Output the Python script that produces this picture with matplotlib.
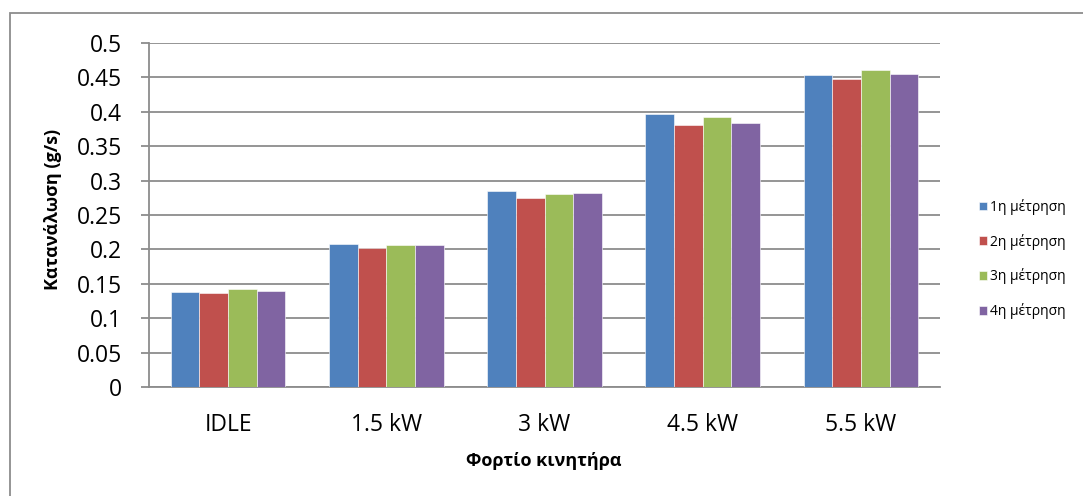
import numpy as np
import matplotlib.pyplot as plt
from matplotlib.patches import Rectangle

# fuel consumption per engine load, four measurement runs
loads = ['IDLE', '1.5 kW', '3 kW', '4.5 kW', '5.5 kW']
run1 = [0.1385, 0.2083, 0.2843, 0.3963, 0.4529]
run2 = [0.1370, 0.2020, 0.2747, 0.3803, 0.4471]
run3 = [0.1419, 0.2058, 0.2810, 0.3924, 0.4607]
run4 = [0.1400, 0.2068, 0.2820, 0.3841, 0.4550]
run_names = ['1η μέτρηση', '2η μέτρηση', '3η μέτρηση', '4η μέτρηση']
colors = ['#4F81BD', '#C0504D', '#9BBB59', '#8064A2']

plt.rcParams['font.family'] = ['Open Sans', 'DejaVu Sans']

fig = plt.figure(figsize=(10.83, 4.96), dpi=100)
ax = fig.add_axes([0.1376, 0.2198, 0.7304, 0.6935])

x = np.arange(len(loads))
w = 0.181
for i, vals in enumerate([run1, run2, run3, run4]):
    ax.bar(x + (i - 1.5) * w, vals, width=w, color=colors[i],
           edgecolor='white', linewidth=0.4, label=run_names[i], zorder=3)

ax.set_xlim(-0.5, len(loads) - 0.5)
ax.set_ylim(0, 0.5)
ax.set_yticks(np.arange(0, 0.501, 0.05))
ax.set_yticklabels(['0', '0.05', '0.1', '0.15', '0.2', '0.25', '0.3',
                    '0.35', '0.4', '0.45', '0.5'])
ax.set_xticks(x)
ax.set_xticklabels(loads)

grid_c = '#8c8c8c'
ax.yaxis.grid(True, color=grid_c, linewidth=1.3, zorder=0)
for s in ['top', 'right']:
    ax.spines[s].set_visible(False)
for s in ['left', 'bottom']:
    ax.spines[s].set_color(grid_c)
    ax.spines[s].set_linewidth(1.3)

ax.tick_params(axis='y', length=5.5, width=1.3, color=grid_c, pad=14,
               labelsize=16.5)
ax.tick_params(axis='x', length=0, pad=19, labelsize=16.5)

ax.set_xlabel('Φορτίο κινητήρα', fontsize=13, fontweight='bold')
ax.xaxis.set_label_coords(0.499, -0.189)
ax.set_ylabel('Κατανάλωση (g/s)', fontsize=13, fontweight='bold')
ax.yaxis.set_label_coords(-0.110, 0.515)

ax.legend(loc='center left', bbox_to_anchor=(1.042, 0.372), frameon=False,
          fontsize=10, handlelength=0.58, handleheight=0.58,
          handletextpad=0.2, labelspacing=1.35, borderaxespad=0)

# chart area outline
fig.patches.append(Rectangle((10 / 1083, -0.1), 1.2, 1.1 - 13 / 496,
                             transform=fig.transFigure, fill=False,
                             edgecolor='#8c8c8c', linewidth=1.3))

fig.savefig('out.png', dpi=100)
